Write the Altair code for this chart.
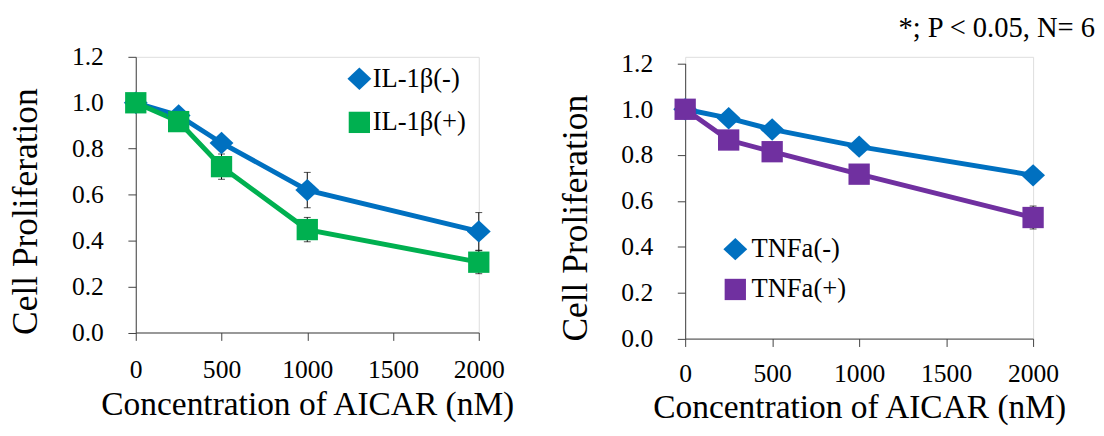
import altair as alt
import pandas as pd

# ---- data ----
conc = [0, 250, 500, 1000, 2000]

il_names = ["IL-1β(-)", "IL-1β(+)"]
il_neg = [1.0, 0.945, 0.825, 0.62, 0.44]
il_neg_err = [0.01, 0.02, 0.025, 0.077, 0.082]
il_pos = [1.0, 0.918, 0.722, 0.448, 0.306]
il_pos_err = [0.015, 0.025, 0.055, 0.053, 0.05]

tnf_names = ["TNFa(-)", "TNFa(+)"]
tnf_neg = [1.0, 0.961, 0.912, 0.837, 0.712]
tnf_neg_err = [0.01, 0.015, 0.015, 0.02, 0.02]
tnf_pos = [1.0, 0.866, 0.815, 0.717, 0.528]
tnf_pos_err = [0.015, 0.02, 0.02, 0.035, 0.05]

y_ticks = [0.0, 0.2, 0.4, 0.6, 0.8, 1.0, 1.2]
x_ticks = [0, 500, 1000, 1500, 2000]
note = "*; P < 0.05, N= 6"

BLUE, GREEN, PURPLE = "#0070C0", "#00B050", "#7030A0"
FONT = "Liberation Serif"
DIAMOND = "M-1.12,0L0,-1.05L1.12,0L0,1.05Z"


def make_df(names, vals, errs):
    rows = []
    for name, v, e in zip(names, vals, errs):
        for c, vv, ee in zip(conc, v, e):
            rows.append({"conc": c, "value": vv, "lo": vv - ee, "hi": vv + ee, "series": name})
    return pd.DataFrame(rows)


def panel(df, names, colors, width, height, y_top, x_title_y, lab_pad, leg_x, leg_y, row_pad, lab_off, extra=None):
    xs = alt.Scale(domain=[0, 2000], nice=False)
    ys = alt.Scale(domain=[0, 1.2], nice=False, range=[height, y_top])
    x_axis = alt.Axis(values=x_ticks, format="d", title="Concentration of AICAR (nM)",
                      labelFont=FONT, labelFontSize=26, titleFont=FONT,
                      titleBaseline="alphabetic", titleY=x_title_y, labelPadding=lab_pad)
    y_axis = alt.Axis(values=y_ticks, format=".1f", title="Cell Proliferation",
                      labelFont=FONT, labelFontSize=26, titleFont=FONT,
                      titleFontSize=36, titleAngle=270, titleBaseline="alphabetic",
                      titleAlign="center", titleX=-100.5, titleY=y_top + 157, labelPadding=25)
    X = alt.X("conc:Q", scale=xs, axis=x_axis)
    layers = []
    sub = alt.Chart(df)
    layers.append(sub.mark_rule(color="black", strokeWidth=1).encode(
        x=X, y=alt.Y("lo:Q", scale=ys, axis=y_axis), y2="hi:Q"))
    for fld in ["lo", "hi"]:
        layers.append(sub.mark_tick(color="black", thickness=1, size=7, orient="horizontal").encode(
            x=X, y=alt.Y(f"{fld}:Q", scale=ys, axis=y_axis)))
    for name, col in zip(names, colors):
        layers.append(sub.transform_filter(alt.datum.series == name).mark_line(
            strokeWidth=5, color=col).encode(
            x=X, y=alt.Y("value:Q", scale=ys, axis=y_axis), order="conc:Q"))
    leg = alt.Legend(title=None, orient="none", legendX=leg_x, legendY=leg_y,
                     labelFont=FONT, labelFontSize=27, labelColor="black",
                     rowPadding=row_pad, labelOffset=lab_off)
    layers.append(sub.mark_point(filled=True, opacity=1, size=470).encode(
        x=X, y=alt.Y("value:Q", scale=ys, axis=y_axis),
        color=alt.Color("series:N", scale=alt.Scale(domain=names, range=colors), legend=leg),
        shape=alt.Shape("series:N", scale=alt.Scale(domain=names, range=[DIAMOND, "square"]), legend=leg)))
    if extra is not None:
        layers.append(extra)
    return alt.layer(*layers).properties(width=width, height=height)


df_il = make_df(il_names, [il_neg, il_pos], [il_neg_err, il_pos_err])
df_tnf = make_df(tnf_names, [tnf_neg, tnf_pos], [tnf_neg_err, tnf_pos_err])

note_mark = alt.Chart(pd.DataFrame({"t": [note]})).mark_text(
    font=FONT, fontSize=29, align="right", baseline="middle", color="black").encode(
    text="t:N", x=alt.value(417), y=alt.value(-29.3))

left = panel(df_il, il_names, [BLUE, GREEN], 349, 280.5, 0, 83.5, 17, 214, 8.8, 16.4, 0)
right = panel(df_tnf, tnf_names, [BLUE, PURPLE], 354, 286.7, 6.7, 80.5, 15, 37.5, 182.2, 13, 3, note_mark)

chart = alt.hconcat(left, right, spacing=42).resolve_scale(
    color="independent", shape="independent", x="independent", y="independent"
).properties(
    padding={"left": 0, "top": 2, "right": 0, "bottom": 0}
).configure_view(stroke=None).configure(
    font=FONT,
    style={"guide-label": {"font": FONT, "fontSize": 26, "fill": "black"},
           "guide-title": {"font": FONT, "fill": "black", "fontWeight": "normal"}}
).configure_axis(
    grid=False, labelFont=FONT, labelFontSize=26, labelColor="black",
    titleFont=FONT, titleFontSize=34, titleFontWeight="normal", titleColor="black",
    domainColor="#404040", tickColor="#404040", tickSize=8, labelFlush=False
).configure_legend(
    labelFont=FONT, labelFontSize=27, labelColor="black", symbolSize=470,
    symbolStrokeWidth=0, padding=0, labelLimit=300
)

chart.save("out.html", embed_options={"renderer": "svg", "actions": False})
